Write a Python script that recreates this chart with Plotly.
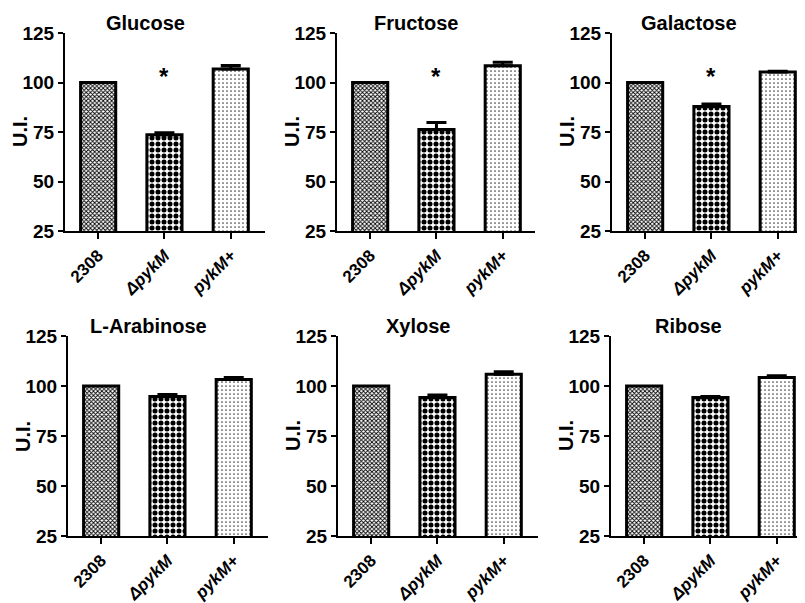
import plotly.graph_objects as go

strains = ["2308", "ΔpykM", "pykM+"]
strain_labels = ["2308", "<i>ΔpykM</i>", "<i>pykM+</i>"]

sugars = ["Glucose", "Fructose", "Galactose", "L-Arabinose", "Xylose", "Ribose"]

glucose = [100, 73.6, 106.8]
glucose_err = [0, 1.0, 1.8]
fructose = [100, 76.2, 108.4]
fructose_err = [0, 3.6, 1.8]
galactose = [100, 87.9, 105.3]
galactose_err = [0, 1.2, 0.4]
arabinose = [100, 94.8, 103.3]
arabinose_err = [0, 1.0, 0.9]
xylose = [100, 94.2, 105.9]
xylose_err = [0, 1.3, 1.2]
ribose = [100, 94.3, 104.2]
ribose_err = [0, 0.4, 0.9]

values = [glucose, fructose, galactose, arabinose, xylose, ribose]
errors = [glucose_err, fructose_err, galactose_err, arabinose_err, xylose_err, ribose_err]
significant = [True, True, True, False, False, False]
star_y = 103

y_ticks = [25, 50, 75, 100, 125]

FONT = "Liberation Sans, Arial, sans-serif"
# the page body has an 8px margin; figure is sized to the visible area
OFF = 8
W, H = 805 - OFF, 603 - OFF

# reference pixel layouts (left, right) for columns, (top, bottom) for rows
cols = [(65, 265), (337, 535), (612, 805)]
cols_bot = [(68, 268), (338, 538), (611, 805)]
rows = [(33, 231), (336, 536)]

patterns = [
    dict(shape="x", size=3, solidity=0.5, fgcolor="#000000", bgcolor="#ffffff", fillmode="replace"),
    dict(shape=".", size=6, solidity=0.55, fgcolor="#000000", bgcolor="#ffffff", fillmode="replace"),
    dict(shape=".", size=4, solidity=0.15, fgcolor="#444444", bgcolor="#ffffff", fillmode="replace"),
]

fig = go.Figure()
annotations = []
layout_axes = {}

for i, sugar in enumerate(sugars):
    r = i // 3
    c = i % 3
    left, right = (cols if r == 0 else cols_bot)[c]
    top, bottom = rows[r]
    left -= OFF; right -= OFF; top -= OFF; bottom -= OFF
    xd = [left / W, min(right / W, 1.0)]
    yd = [1 - bottom / H, 1 - top / H]
    idx = "" if i == 0 else str(i + 1)
    xa = "x" + idx
    ya = "y" + idx
    span_cats = (min(right, W) - left) / 66.3
    xrange = [-0.5, -0.5 + span_cats]
    for j in range(3):
        fig.add_trace(go.Bar(
            x=[strains[j]], y=[values[i][j]],
            xaxis=xa, yaxis=ya,
            width=0.53,
            marker=dict(color="#ffffff", pattern=patterns[j],
                        line=dict(color="#000000", width=3)),
            error_y=dict(type="data", symmetric=False,
                         array=[errors[i][j]], arrayminus=[0],
                         color="#000000", thickness=3, width=10,
                         visible=errors[i][j] > 0),
            showlegend=False,
        ))
    layout_axes["xaxis" + idx] = dict(
        domain=xd, anchor=ya, type="category",
        categoryorder="array", categoryarray=strains,
        range=xrange, automargin=False,
        tickmode="array", tickvals=strains, ticktext=strain_labels,
        tickangle=-45,
        tickfont=dict(family=FONT, size=17, color="#000000", weight="bold"),
        showline=True, linecolor="#000000", linewidth=2,
        ticks="outside", ticklen=6, tickwidth=2, tickcolor="#000000",
        showgrid=False, zeroline=False, fixedrange=True,
    )
    layout_axes["yaxis" + idx] = dict(
        domain=yd, anchor=xa, range=[25, 125], automargin=False,
        tickmode="array", tickvals=y_ticks,
        tickfont=dict(family=FONT, size=19, color="#000000", weight="bold"),
        showline=True, linecolor="#000000", linewidth=2,
        ticks="outside", ticklen=5, tickwidth=2, tickcolor="#000000",
        showgrid=False, zeroline=False, fixedrange=True,
    )
    # y-axis title
    annotations.append(dict(
        text="U.I.", xref="paper", yref="paper",
        x=(left - 45) / W, y=(yd[0] + yd[1]) / 2,
        xanchor="center", yanchor="middle", textangle=-90, showarrow=False,
        font=dict(family=FONT, size=20, color="#000000", weight="bold"),
    ))
    # panel title
    annotations.append(dict(
        text=sugar, xref="paper", yref="paper",
        x=(left + right) / 2 / W - 20 / W, y=yd[1] - 3 / H,
        xanchor="center", yanchor="bottom", showarrow=False,
        font=dict(family=FONT, size=20, color="#000000", weight="bold"),
    ))
    if significant[i]:
        annotations.append(dict(
            text="*", xref=xa, yref=ya, x=strains[1], y=star_y,
            xanchor="center", yanchor="middle", showarrow=False,
            font=dict(family=FONT, size=24, color="#000000", weight="bold"),
        ))

fig.update_layout(
    width=W, height=H,
    margin=dict(l=0, r=0, t=0, b=0, autoexpand=False),
    paper_bgcolor="#ffffff", plot_bgcolor="#ffffff",
    annotations=annotations,
    **layout_axes,
)

fig.write_html("out.html")
